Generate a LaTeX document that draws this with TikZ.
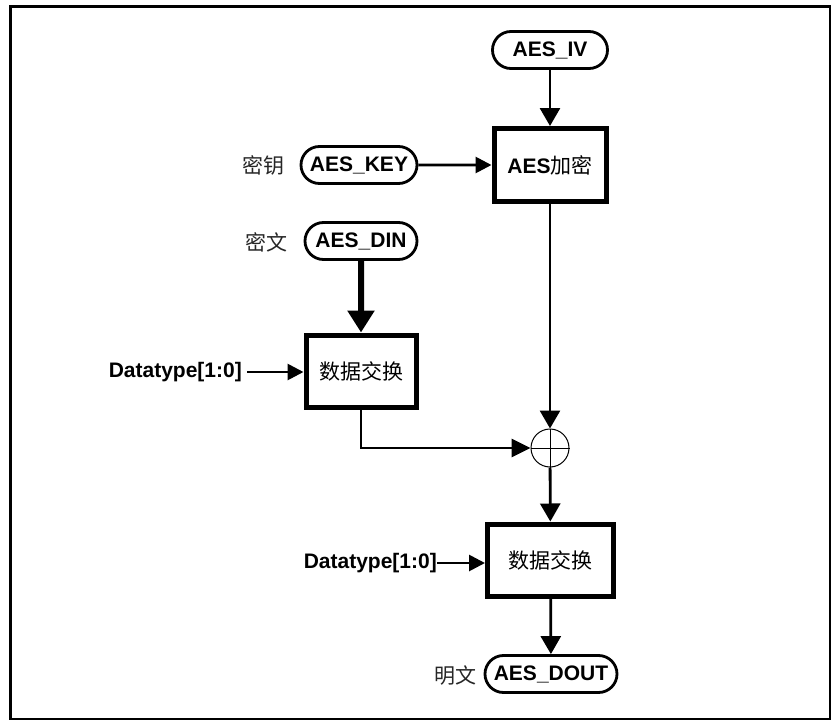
\documentclass[tikz,border=0pt]{standalone}
\usepackage{fontspec}
\setmainfont{Liberation Sans}
\newfontfamily\cjk{Noto Sans CJK SC}
\usetikzlibrary{shapes.misc,arrows.meta}
\begin{document}
\begin{tikzpicture}[x=1pt,y=-1pt,
  pill/.style={rounded rectangle, draw, line width=2.8pt, minimum height=37pt, inner sep=0pt, font=\fontsize{21}{23}\selectfont\bfseries},
  blk/.style={rectangle, draw, line width=5pt, inner sep=0pt, font=\fontsize{21}{23}\selectfont},
  cnlabel/.style={font=\fontsize{21}{23}\selectfont\cjk, text=black!85},
  dtlabel/.style={inner sep=0pt, font=\fontsize{21}{23}\selectfont\bfseries},
  arr/.style={line width=2.8pt, -{Triangle[length=18pt,width=20pt]}},
  harr/.style={line width=2.8pt, -{Triangle[length=16pt,width=16pt]}},
  thickarr/.style={line width=6pt, -{Triangle[length=22pt,width=26pt]}},
  xorc/.style={circle, draw, line width=1pt, minimum size=38pt, inner sep=0pt}]
\useasboundingbox (0,0) rectangle (831,720);
\draw[line width=3pt] (10,6.5) rectangle (830,719);
% nodes
\node[pill, minimum width=115pt] (iv) at (550,50) {AES\_IV};
\node[blk, minimum width=112pt, minimum height=73pt] (enc) at (550,165) {{\bfseries AES}{\cjk 加密}};
\node[cnlabel] (keylbl) at (263,165) {密钥};
\node[pill, minimum width=116pt] (key) at (359,165) {AES\_KEY};
\node[cnlabel] (dinlbl) at (266,242) {密文};
\node[pill, minimum width=112pt] (din) at (361,241) {AES\_DIN};
\node[blk, minimum width=110pt, minimum height=72pt] (sw1) at (361,371) {\cjk 数据交换};
\node[dtlabel, anchor=east] (dt1) at (242,372) {Datatype[1:0]};
\node[xorc] (xor) at (550,448) {};
\draw[line width=1pt] (xor.north) -- (xor.south) (xor.west) -- (xor.east);
\node[blk, minimum width=126pt, minimum height=72pt] (sw2) at (550.5,560) {\cjk 数据交换};
\node[dtlabel, anchor=east] (dt2) at (437,563) {Datatype[1:0]};
\node[pill, minimum width=132pt] (dout) at (551,674) {AES\_DOUT};
\node[cnlabel] (doutlbl) at (455,676) {明文};
% connectors
\draw[arr] (iv) -- (enc);
\draw[harr] (key) -- (enc);
\draw[thickarr] (din) -- (sw1);
\draw[harr, shorten <=5pt] (dt1.east) -- (sw1.west |- dt1.east);
\draw[arr] (enc) -- (xor);
\draw[line width=2.8pt, -{Triangle[length=19pt,width=18pt]}] (sw1.south) |- (xor.west);
\draw[arr] (xor) -- (sw2);
\draw[harr] (dt2.east) -- (sw2.west |- dt2.east);
\draw[arr] (sw2) -- (dout);
\end{tikzpicture}
\end{document}
